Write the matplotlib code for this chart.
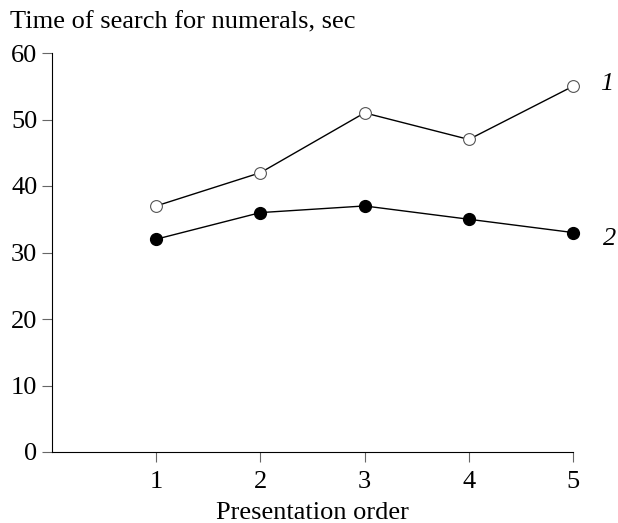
import matplotlib
matplotlib.use("Agg")
import matplotlib.pyplot as plt

plt.rcParams['font.family'] = ['Liberation Serif', 'DejaVu Serif']

order = [1, 2, 3, 4, 5]
series1 = [37, 42, 51, 47, 55]
series2 = [32, 36, 37, 35, 33]
yticks = [0, 10, 20, 30, 40, 50, 60]

fig = plt.figure(figsize=(6.18, 5.23), dpi=100)
ax = fig.add_axes([52/618, 1-452/523, (573-52)/618, (452-53)/523])

ax.plot(order, series1, color='black', lw=1, marker='o', ms=8.5,
        mfc='white', mec='#555555', mew=0.8, zorder=3, clip_on=False)
ax.plot(order, series2, color='black', lw=1, marker='o', ms=8.5,
        mfc='black', mec='black', zorder=3, clip_on=False)

ax.set_xlim(0, 5)
ax.set_ylim(0, 60)
ax.set_xticks(order)
ax.set_yticks(yticks)
ax.spines['top'].set_visible(False)
ax.spines['right'].set_visible(False)
ax.tick_params(labelsize=19, length=7, width=0.8, color='#666666')
ax.tick_params(axis='x', pad=7)
ax.tick_params(axis='y', pad=3.5)

ax.text(1.052, series1[-1] + 0.3, '1', transform=ax.get_yaxis_transform(),
        fontsize=19, style='italic', va='center', ha='left')
ax.text(1.057, series2[-1] - 0.9, '2', transform=ax.get_yaxis_transform(),
        fontsize=19, style='italic', va='center', ha='left')

fig.text(10/618, 1-22/523, 'Time of search for numerals, sec', fontsize=19,
         va='center', ha='left')
ax.set_xlabel('Presentation order', fontsize=19, labelpad=6)

fig.savefig('out.png', dpi=100)
